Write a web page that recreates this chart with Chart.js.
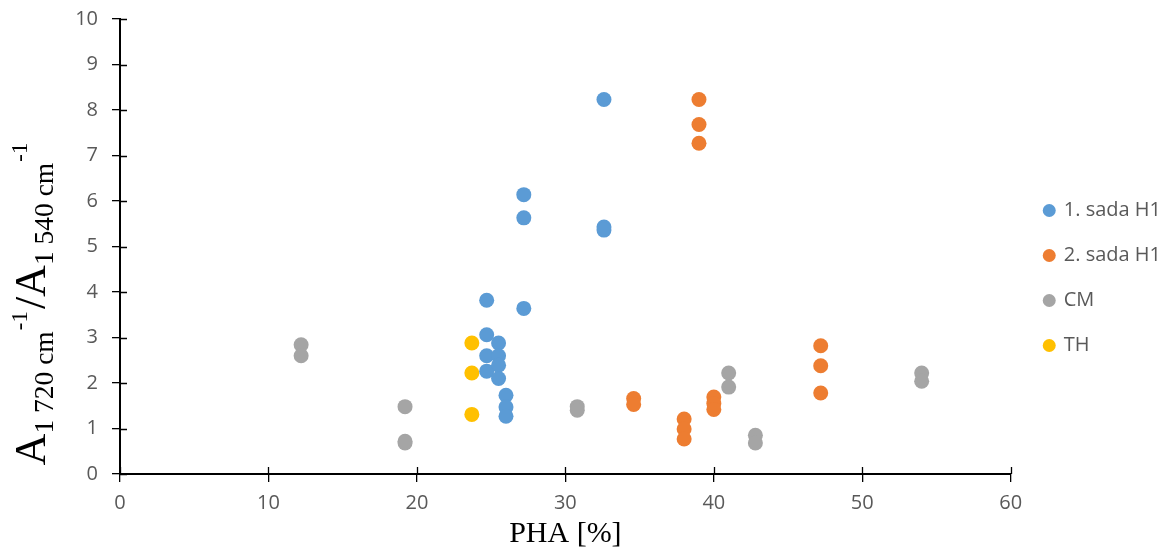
<!DOCTYPE html>
<html>
<head>
<meta charset="utf-8">
<script src="https://cdn.jsdelivr.net/npm/chart.js@4.4.1/dist/chart.umd.min.js"></script>
<style>
  html, body { margin: 0; padding: 0; background: #fff; }
  #wrap { width: 1168px; height: 554px; }
</style>
</head>
<body>
<div id="wrap"><canvas id="pha-chart" width="1168" height="554"></canvas></div>
<script>
// PHA [%] vs. absorbance ratio
var sada1X = [24.7, 24.7, 24.7, 24.7, 25.5, 25.5, 25.5, 25.5, 26.0, 26.0, 26.0, 27.2, 27.2, 27.2, 32.6, 32.6, 32.6];
var sada1Y = [3.82, 3.06, 2.60, 2.26, 2.88, 2.60, 2.39, 2.10, 1.73, 1.47, 1.27, 6.14, 5.63, 3.64, 8.23, 5.43, 5.36];

var sada2X = [34.6, 34.6, 38.0, 38.0, 38.0, 39.0, 39.0, 39.0, 40.0, 40.0, 40.0, 47.2, 47.2, 47.2];
var sada2Y = [1.66, 1.53, 1.21, 0.99, 0.77, 8.23, 7.68, 7.27, 1.69, 1.55, 1.42, 2.82, 2.38, 1.78];

var cmX = [12.2, 12.2, 19.2, 19.2, 19.2, 30.8, 30.8, 41.0, 41.0, 42.8, 42.8, 54.0, 54.0];
var cmY = [2.84, 2.60, 1.48, 0.72, 0.68, 1.48, 1.40, 2.22, 1.91, 0.85, 0.68, 2.22, 2.04];

var thX = [23.7, 23.7, 23.7];
var thY = [2.88, 2.22, 1.31];

var seriesNames = ["1. sada H1", "2. sada H1", "CM", "TH"];
var seriesColors = ["#5B9BD5", "#ED7D31", "#A5A5A5", "#FFC000"];
var xTitle = "PHA [%]";

function toPoints(xs, ys) {
  return xs.map(function (x, i) { return { x: x, y: ys[i] }; });
}

var allData = [toPoints(sada1X, sada1Y), toPoints(sada2X, sada2Y), toPoints(cmX, cmY), toPoints(thX, thY)];

var datasets = seriesNames.map(function (name, i) {
  return {
    label: name,
    data: allData[i],
    backgroundColor: seriesColors[i],
    borderColor: seriesColors[i],
    borderWidth: 0,
    pointRadius: 7.5,
    pointHoverRadius: 7.5
  };
});

// ticks that cross the axis line, like the original
var crossTicks = {
  id: "crossTicks",
  afterDraw: function (chart) {
    var ctx = chart.ctx, a = chart.chartArea;
    var xs = chart.scales.x, ys = chart.scales.y;
    ctx.save();
    ctx.strokeStyle = "#000";
    ctx.lineWidth = 1.3;
    ctx.beginPath();
    xs.ticks.forEach(function (t) {
      var px = Math.round(xs.getPixelForValue(t.value)) + 0.5;
      ctx.moveTo(px, a.bottom - 7);
      ctx.lineTo(px, a.bottom);
    });
    ys.ticks.forEach(function (t) {
      var py = Math.round(ys.getPixelForValue(t.value)) + 0.5;
      ctx.moveTo(a.left, py);
      ctx.lineTo(a.left + 7, py);
    });
    ctx.stroke();
    ctx.restore();
  }
};

// nudge the legend block to where the original has it
var legendNudge = {
  id: "legendNudge",
  afterLayout: function (chart) {
    var l = chart.legend;
    l.left += 9;
    l.right += 9;
    l.top -= 17;
  }
};

// rotated y title with sub- and superscripts
var yTitle = {
  id: "yTitle",
  afterDraw: function (chart) {
    var ctx = chart.ctx;
    var serif = "'Liberation Serif', 'Times New Roman', serif";
    var parts = [
      { t: "A", s: 44, dy: 0, gap: 0 },
      { t: "1 720 cm", s: 27.5, dy: 8, gap: 0 },
      { t: "-1", s: 23, dy: -18, gap: 1 },
      { t: "/", s: 44, dy: 0, gap: 2 },
      { t: "A", s: 44, dy: 0, gap: 0 },
      { t: "1 540 cm", s: 27.5, dy: 8, gap: 0 },
      { t: "-1", s: 23, dy: -18, gap: 1 }
    ];
    ctx.save();
    ctx.fillStyle = "#000";
    ctx.textBaseline = "alphabetic";
    ctx.textAlign = "left";
    var total = 0;
    parts.forEach(function (p) {
      ctx.font = p.s + "px " + serif;
      p.w = ctx.measureText(p.t).width;
      total += p.w + p.gap;
    });
    ctx.translate(45, 304);
    ctx.rotate(-Math.PI / 2);
    var x = -total / 2;
    parts.forEach(function (p) {
      x += p.gap;
      ctx.font = p.s + "px " + serif;
      ctx.fillText(p.t, x, p.dy);
      x += p.w;
    });
    ctx.restore();
  }
};

var tickFont = { family: "'Open Sans', sans-serif", size: 20 };

var config = {
  type: "scatter",
  data: { datasets: datasets },
  options: {
    responsive: false,
    animation: false,
    layout: { padding: { top: 19, right: 6, bottom: 0, left: 0 } },
    scales: {
      x: {
        min: 0,
        max: 60,
        afterFit: function (s) { s.height = 80; },
        ticks: { stepSize: 10, color: "#595959", font: tickFont, padding: 9 },
        grid: { drawOnChartArea: false, color: "#000", tickLength: 8, lineWidth: 1.3 },
        border: { color: "#000", width: 2 },
        title: {
          display: true,
          text: xTitle,
          color: "#000",
          font: { family: "'Liberation Serif', 'Times New Roman', serif", size: 30 },
          padding: { top: 0, bottom: 2 }
        }
      },
      y: {
        min: 0,
        max: 10,
        afterFit: function (s) {
          s.width = 120;
          s.paddingTop = 0;
          s.paddingBottom = 0;
        },
        ticks: { stepSize: 1, color: "#595959", font: tickFont, padding: 14 },
        grid: { drawOnChartArea: false, color: "#000", tickLength: 8, lineWidth: 1.3 },
        border: { color: "#000", width: 2 }
      }
    },
    plugins: {
      tooltip: { enabled: false },
      legend: {
        position: "right",
        labels: {
          usePointStyle: true,
          pointStyle: "circle",
          boxWidth: 9,
          boxHeight: 9.2,
          padding: 25,
          color: "#595959",
          font: tickFont
        }
      }
    }
  },
  plugins: [crossTicks, legendNudge, yTitle]
};

window.onload = function () {
  var ctx = document.getElementById("pha-chart").getContext("2d");
  window.phaChart = new Chart(ctx, config);
};
</script>
</body>
</html>
